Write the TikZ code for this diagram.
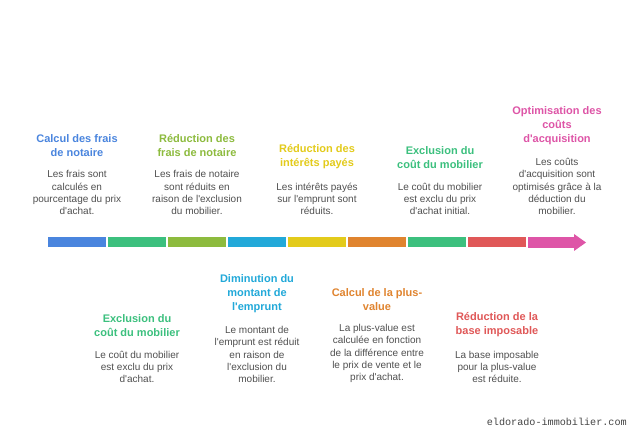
\documentclass[tikz,border=0pt]{standalone}
\usepackage{fontspec}
\setmainfont{Liberation Sans}[Ligatures=TeXOff]
\newfontfamily\markfont{Liberation Mono}
\usetikzlibrary{positioning}

\definecolor{cBlue}{HTML}{4A85DE}
\definecolor{cGreen}{HTML}{3CC07E}
\definecolor{cOlive}{HTML}{8DBB3E}
\definecolor{cCyan}{HTML}{22A9D9}
\definecolor{cYellow}{HTML}{E3CB1B}
\definecolor{cOrange}{HTML}{E0842F}
\definecolor{cRed}{HTML}{E05858}
\definecolor{cPink}{HTML}{DE55A7}
\definecolor{cText}{HTML}{505050}
\definecolor{cMark}{HTML}{444444}

\tikzset{
  seg/.style={rectangle, inner sep=0pt, minimum width=43.5pt, minimum height=7.5pt},
  stepbody/.style={inner sep=0pt, align=center, text=cText, font=\fontsize{7.5}{9.2}\selectfont},
  steptitle/.style={inner sep=0pt, align=center, font=\fontsize{8.25}{10.5}\selectfont\bfseries},
}

\begin{document}
\begin{tikzpicture}[x=0.75pt,y=0.75pt]
\fill[white] (0,0) rectangle (636,438);
\useasboundingbox (0,0) rectangle (636,438);

%Shape: timeline segments
\node[seg, fill=cBlue]   (s1) at (77,195.5) {};
\node[seg, fill=cGreen]  (s2) at (137,195.5) {};
\node[seg, fill=cOlive]  (s3) at (197,195.5) {};
\node[seg, fill=cCyan]   (s4) at (257,195.5) {};
\node[seg, fill=cYellow] (s5) at (317,195.5) {};
\node[seg, fill=cOrange] (s6) at (377,195.5) {};
\node[seg, fill=cGreen]  (s7) at (437,195.5) {};
\node[seg, fill=cRed]    (s8) at (497,195.5) {};
%Shape: last segment with arrow head
\fill[cPink] (528,190.2) -- (574,190.2) -- (574,187) -- (586,195.5) -- (574,204) -- (574,200.8) -- (528,200.8) -- cycle;
\coordinate (s9) at (557,195.5);

% Text Node (above the line)
\node[stepbody, anchor=south] (b1) at (77,223) {Les frais sont\\calculés en\\pourcentage du prix\\d'achat.};
\node[steptitle, text=cBlue, above=10pt of b1] (t1) {Calcul des frais\\de notaire};
% Text Node
\node[stepbody, anchor=south] (b3) at (197,223) {Les frais de notaire\\sont réduits en\\raison de l'exclusion\\du mobilier.};
\node[steptitle, text=cOlive, above=10pt of b3] (t3) {Réduction des\\frais de notaire};
% Text Node
\node[stepbody, anchor=south] (b5) at (317,223) {Les intérêts payés\\sur l'emprunt sont\\réduits.};
\node[steptitle, text=cYellow, above=10pt of b5] (t5) {Réduction des\\intérêts payés};
% Text Node
\node[stepbody, anchor=south] (b7) at (440,223) {Le coût du mobilier\\est exclu du prix\\d'achat initial.};
\node[steptitle, text=cGreen, above=10pt of b7] (t7) {Exclusion du\\coût du mobilier};
% Text Node
\node[stepbody, anchor=south] (b9) at (557,223) {Les coûts\\d'acquisition sont\\optimisés grâce à la\\déduction du\\mobilier.};
\node[steptitle, text=cPink, above=10pt of b9] (t9) {Optimisation des\\coûts\\d'acquisition};

% Text Node (below the line)
\node[stepbody, anchor=south] (b2) at (137,55) {Le coût du mobilier\\est exclu du prix\\d'achat.};
\node[steptitle, text=cGreen, above=10pt of b2] (t2) {Exclusion du\\coût du mobilier};
% Text Node
\node[stepbody, anchor=south] (b4) at (257,55) {Le montant de\\l'emprunt est réduit\\en raison de\\l'exclusion du\\mobilier.};
\node[steptitle, text=cCyan, above=10pt of b4] (t4) {Diminution du\\montant de\\l'emprunt};
% Text Node
\node[stepbody, anchor=south] (b6) at (377,55) {La plus-value est\\calculée en fonction\\de la différence entre\\le prix de vente et le\\prix d'achat.};
\node[steptitle, text=cOrange, above=10pt of b6] (t6) {Calcul de la plus-\\value};
% Text Node
\node[stepbody, anchor=south] (b8) at (497,55) {La base imposable\\pour la plus-value\\est réduite.};
\node[steptitle, text=cRed, above=10pt of b8] (t8) {Réduction de la\\base imposable};

% Text Node: watermark
\node[anchor=base east, inner sep=0pt, text=cMark, font=\markfont\fontsize{7.6}{9}\selectfont] (mark) at (627,12) {eldorado-immobilier.com};

\end{tikzpicture}
\end{document}
